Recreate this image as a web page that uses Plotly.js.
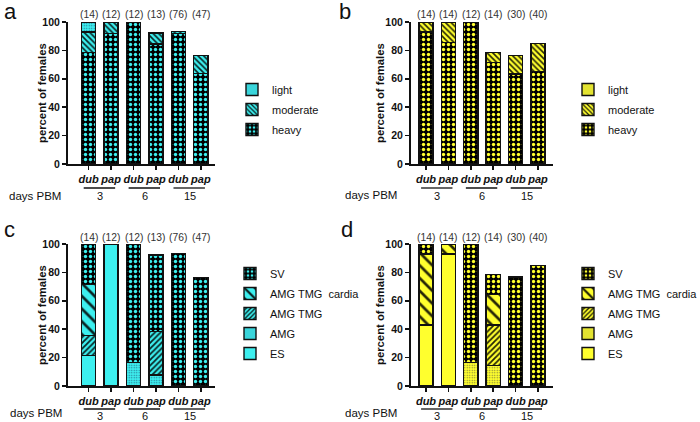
<!DOCTYPE html>
<html>
<head>
<meta charset="utf-8">
<script src="https://cdn.plot.ly/plotly-3.0.1.min.js"></script>
<style>
html,body{margin:0;padding:0;background:#fff;}
#chart{width:700px;height:422px;}
</style>
</head>
<body>
<div id="chart"></div>
<script>
// ---- data ----
const species = ['dub','pap','dub','pap','dub','pap'];
const days = ['3','3','6','6','15','15'];
const dayGroups = ['3','6','15'];
const countsAC = ['(14)','(12)','(12)','(13)','(76)','(47)'];
const countsBD = ['(14)','(14)','(12)','(14)','(30)','(40)'];
const yTitle = 'percent of females';
const xGroupTitle = 'days PBM';

// panel a (cyan) - infection intensity
const aHeavy    = [78.6, 91.7, 100, 84.6, 92.1, 63.8];
const aModerate = [14.3, 8.3, 0, 7.7, 1.3, 12.8];
const aLight    = [7.1, 0, 0, 0, 0, 0];
// panel b (yellow)
const bHeavy    = [92.9, 85.7, 100, 71.4, 63.3, 65.0];
const bModerate = [7.1, 14.3, 0, 7.1, 13.3, 20.0];
const bLight    = [0, 0, 0, 0, 0, 0];
// panel c (cyan) - localisation
const cES      = [21.4, 100, 0, 0, 0, 0];
const cAMG     = [0, 0, 16.7, 7.7, 0, 0];
const cAMGTMG  = [14.3, 0, 0, 30.8, 0, 0];
const cCardia  = [35.7, 0, 0, 0, 0, 0];
const cSV      = [28.6, 0, 83.3, 53.8, 93.4, 76.6];
// panel d (yellow)
const dES      = [42.9, 92.9, 0, 0, 0, 0];
const dAMG     = [0, 0, 16.7, 14.3, 0, 0];
const dAMGTMG  = [0, 0, 0, 28.6, 0, 0];
const dCardia  = [50.0, 7.1, 0, 21.4, 0, 0];
const dSV      = [7.1, 0, 83.3, 14.3, 76.7, 85.0];

const intensityNames = ['heavy','moderate','light'];
const siteNames = ['ES','AMG','AMG TMG','AMG TMG  cardia','SV'];

// ---- styling ----
const CYAN = '#3DEFEF';
const YEL = '#FFFF2E';
const W = 700, H = 422;
const FONT = 'Liberation Sans, Arial, sans-serif';
const xpos = species.map((_, i) => i);

function pat(kind, col) {
  switch (kind) {
    case 'dots': return {shape: '.', fillmode: 'replace', bgcolor: '#000', fgcolor: col, size: 5, solidity: 0.36};
    case 'fine': return {shape: '.', fillmode: 'overlay', fgcolor: '#114', fgopacity: 0.55, size: 2.5, solidity: 0.25};
    case 'dense\\': return {shape: '\\', fillmode: 'overlay', fgcolor: '#000', fgopacity: 0.85, size: 4, solidity: 0.4};
    case 'wide\\': return {shape: '\\', fillmode: 'overlay', fgcolor: '#000', fgopacity: 0.85, size: 9, solidity: 0.3};
    case 'dense/': return {shape: '/', fillmode: 'overlay', fgcolor: '#000', fgopacity: 0.85, size: 4, solidity: 0.45};
    default: return {shape: ''};
  }
}

// panel geometry (px)
const panels = [
  {ax: '', left: 68, right: 215, range: [-0.92, 5.63], top: 22, bottom: 164, col: CYAN, counts: countsAC,
   label: 'a', lx: 2, ly: 12, ytx: 42, dpx: 7,
   series: [aHeavy, aModerate, aLight], names: intensityNames, pats: ['dots','dense\\','fine'],
   legend: {x: 232, y: 75}, gl: 24, gn: 32, dp: 32},
  {ax: '2', left: 411, right: 553, range: [-0.67, 5.67], top: 22, bottom: 164, col: YEL, counts: countsBD,
   label: 'b', lx: 337, ly: 12, ytx: 380, dpx: 343,
   series: [bHeavy, bModerate, bLight], names: intensityNames, pats: ['dots','dense\\','fine'],
   legend: {x: 568, y: 75}, gl: 24, gn: 32, dp: 31},
  {ax: '3', left: 68, right: 215, range: [-0.92, 5.63], top: 244, bottom: 386, col: CYAN, counts: countsAC,
   label: 'c', lx: 2, ly: 230, ytx: 42, dpx: 8,
   series: [cES, cAMG, cAMGTMG, cCardia, cSV], names: siteNames, pats: ['','fine','dense/','wide\\','dots'],
   legend: {x: 230, y: 259}, gl: 23, gn: 30, dp: 27},
  {ax: '4', left: 411, right: 553, range: [-0.67, 5.67], top: 244, bottom: 386, col: YEL, counts: countsBD,
   label: 'd', lx: 339, ly: 230, ytx: 380, dpx: 343,
   series: [dES, dAMG, dAMGTMG, dCardia, dSV], names: siteNames, pats: ['','fine','dense/','wide\\','dots'],
   legend: {x: 568, y: 259}, gl: 23, gn: 30, dp: 27}
];

const traces = [];
const layout = {
  width: W, height: H,
  margin: {l: 0, r: 0, t: 0, b: 0, autoexpand: false},
  paper_bgcolor: '#fff', plot_bgcolor: 'rgba(0,0,0,0)',
  barmode: 'stack',
  font: {family: FONT, size: 11, color: '#111'},
  annotations: [], shapes: []
};

panels.forEach((p, pi) => {
  const legName = pi === 0 ? 'legend' : 'legend' + (pi + 1);
  p.series.forEach((vals, si) => {
    traces.push({
      type: 'bar', x: xpos, y: vals, name: p.names[si],
      xaxis: 'x' + p.ax, yaxis: 'y' + p.ax, legend: legName,
      legendgroup: 'g' + pi + '_' + si, legendrank: 1000 - si,
      width: 0.63,
      marker: {color: p.col, line: {color: '#111', width: 1.4}, pattern: pat(p.pats[si], p.col)},
      hoverinfo: 'skip'
    });
  });
  layout[legName] = {
    x: p.legend.x / W, y: 1 - p.legend.y / H, xanchor: 'left', yanchor: 'top',
    xref: 'paper', yref: 'paper',
    traceorder: 'grouped', tracegroupgap: 1,
    bgcolor: 'rgba(0,0,0,0)', borderwidth: 0,
    font: {family: FONT, size: 11, color: '#111'}, itemwidth: 30
  };
  layout['xaxis' + p.ax] = {
    domain: [p.left / W, p.right / W], anchor: 'y' + p.ax,
    range: p.range, tickvals: xpos,
    ticktext: species.map(s => '<b><i>' + s + '</i></b>'),
    tickangle: 0,
    ticks: 'outside', ticklen: 4, tickwidth: 1.5, tickcolor: '#111',
    showline: true, linewidth: 2, linecolor: '#111',
    showgrid: false, zeroline: false, fixedrange: true,
    tickfont: {family: FONT, size: 11, color: '#111'}
  };
  layout['yaxis' + p.ax] = {
    domain: [1 - p.bottom / H, 1 - p.top / H], anchor: 'x' + p.ax,
    range: [0, 100], tickvals: [0, 20, 40, 60, 80, 100],
    ticktext: [0, 20, 40, 60, 80, 100].map(v => '<b>' + v + '</b>'),
    ticks: 'outside', ticklen: 4, tickwidth: 1.5, tickcolor: '#111',
    showline: true, linewidth: 2, linecolor: '#111',
    showgrid: false, zeroline: false, fixedrange: true,
    tickfont: {family: FONT, size: 10.5, color: '#111'}
  };
  // y axis title
  layout.annotations.push({
    x: p.ytx / W, y: 1 - ((p.top + p.bottom) / 2) / H, xref: 'paper', yref: 'paper',
    text: '<b>' + yTitle + '</b>', textangle: -90, showarrow: false,
    font: {family: FONT, size: 11.3, color: '#111'}, xanchor: 'center', yanchor: 'middle'
  });
  // counts above bars
  p.counts.forEach((c, i) => {
    layout.annotations.push({
      x: xpos[i], y: 1 - (p.top - 7) / H, xref: 'x' + p.ax, yref: 'paper',
      text: c, showarrow: false, font: {family: FONT, size: 10.3, color: '#333'},
      xanchor: 'center', yanchor: 'middle'
    });
  });
  // group lines and day labels
  dayGroups.forEach(g => {
    const idx = days.map((d, i) => d === g ? i : -1).filter(i => i >= 0);
    const a = xpos[idx[0]], b = xpos[idx[idx.length - 1]];
    layout.shapes.push({
      type: 'line', xref: 'x' + p.ax, yref: 'paper',
      x0: a - 0.22, x1: b + 0.18,
      y0: 1 - (p.bottom + p.gl) / H, y1: 1 - (p.bottom + p.gl) / H,
      line: {color: '#111', width: 1.3}
    });
    layout.annotations.push({
      x: (a + b) / 2, y: 1 - (p.bottom + p.gn) / H, xref: 'x' + p.ax, yref: 'paper',
      text: g, showarrow: false, font: {family: FONT, size: 11, color: '#111'},
      xanchor: 'center', yanchor: 'middle'
    });
  });
  // "days PBM"
  layout.annotations.push({
    x: p.dpx / W, y: 1 - (p.bottom + p.dp) / H, xref: 'paper', yref: 'paper',
    text: xGroupTitle, showarrow: false, font: {family: FONT, size: 11.5, color: '#111'},
    xanchor: 'left', yanchor: 'middle'
  });
  // panel letter
  layout.annotations.push({
    x: p.lx / W, y: 1 - p.ly / H, xref: 'paper', yref: 'paper',
    text: p.label, showarrow: false, font: {family: FONT, size: 22, color: '#111'},
    xanchor: 'left', yanchor: 'middle'
  });
});

Plotly.newPlot('chart', traces, layout, {staticPlot: true, displayModeBar: false});
</script>
</body>
</html>
